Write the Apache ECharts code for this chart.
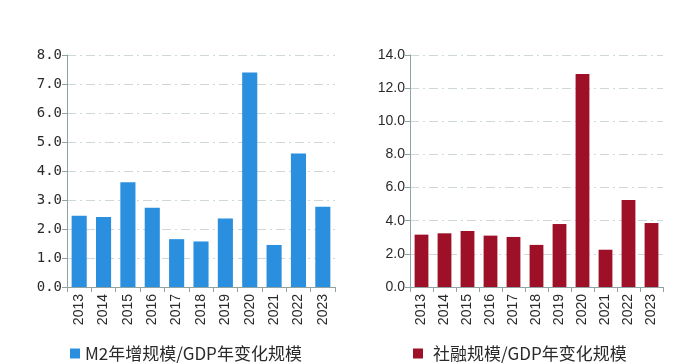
<!DOCTYPE html>
<html><head><meta charset="utf-8">
<script src="https://cdn.jsdelivr.net/npm/echarts@6/dist/echarts.min.js"></script>
<style>html,body{margin:0;padding:0;background:#fff}#c{width:700px;height:364px}</style>
</head><body><div id="c"></div>
<script>
const years = ['2013','2014','2015','2016','2017','2018','2019','2020','2021','2022','2023'];
const m2Ratio = [2.46, 2.41, 3.61, 2.73, 1.65, 1.57, 2.36, 7.40, 1.45, 4.60, 2.77];
const tsfRatio = [3.16, 3.24, 3.38, 3.10, 3.02, 2.54, 3.80, 12.86, 2.25, 5.25, 3.86];
const m2Name = 'M2年增规模/GDP年变化规模';
const tsfName = '社融规模/GDP年变化规模';

const font = '"Noto Sans CJK SC", "DejaVu Sans", sans-serif';
const monoFont = '"DejaVu Sans Mono", "Liberation Mono", monospace';
const sansFont = '"Liberation Sans", Arial, sans-serif';
const axisColor = '#8fa3a3';
const gridLine = {show:true, lineStyle:{color:'#cfd8d8', width:1, type:[9,4,2,4]}};
function xAx(idx){return {type:'category', gridIndex:idx, data:years, boundaryGap:true,
  axisLine:{lineStyle:{color:axisColor}}, axisTick:{show:true, alignWithLabel:false, length:5, lineStyle:{color:axisColor}},
  axisLabel:{rotate:90, color:'#2a2a2a', fontSize:14, fontFamily:sansFont, margin:7, interval:0}};}
function yAx(idx,max,interval,ff){return {type:'value', gridIndex:idx, min:0, max:max, interval:interval,
  axisLine:{show:true, lineStyle:{color:axisColor}}, axisTick:{show:true, length:5, lineStyle:{color:axisColor}},
  axisLabel:{color:'#2a2a2a', fontSize:14, fontFamily:ff, margin:5, formatter:v=>v.toFixed(1)},
  splitLine:gridLine};}
const chart = echarts.init(document.getElementById('c'));
chart.setOption({
  animation:false,
  grid:[{left:67, top:55, width:268, height:232},{left:410, top:55, width:253, height:232}],
  xAxis:[xAx(0), xAx(1)],
  yAxis:[yAx(0,8,1,monoFont), yAx(1,14,2,sansFont)],
  legend:[
    {data:[m2Name], left:65, top:340, icon:'rect', itemWidth:10, itemHeight:10, itemGap:5, textStyle:{fontSize:17, color:'#2a2a2a', fontFamily:font}},
    {data:[tsfName], left:408, top:340, icon:'rect', itemWidth:10, itemHeight:10, itemGap:5, textStyle:{fontSize:17, color:'#2a2a2a', fontFamily:font, padding:[0,0,0,5]}}
  ],
  series:[
    {name:m2Name, type:'bar', xAxisIndex:0, yAxisIndex:0, data:m2Ratio, barWidth:'62%', itemStyle:{color:'#2b8fdf'}},
    {name:tsfName, type:'bar', xAxisIndex:1, yAxisIndex:1, data:tsfRatio, barWidth:'60%', itemStyle:{color:'#9d1028'}}
  ]
});
</script></body></html>
